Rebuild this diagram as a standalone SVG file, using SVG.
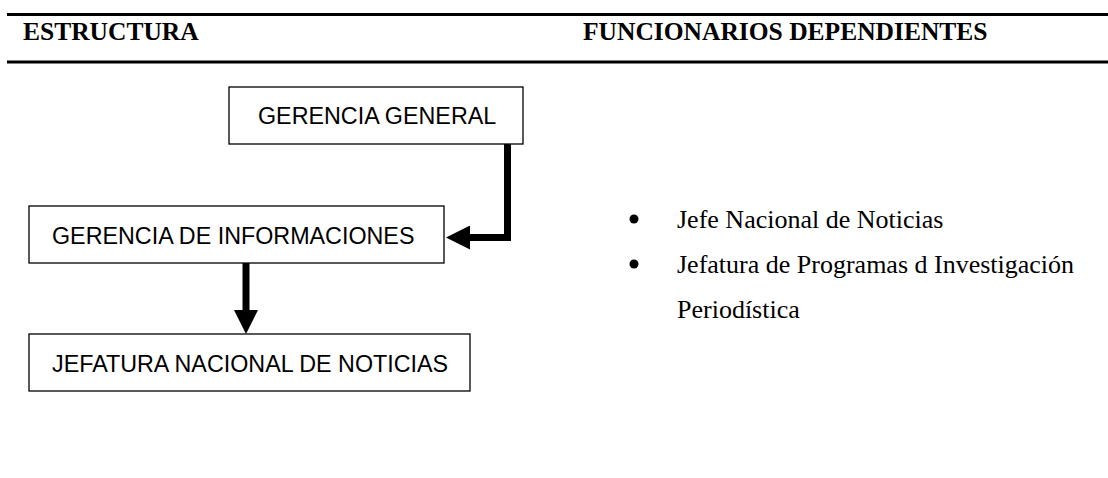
<svg xmlns="http://www.w3.org/2000/svg" width="1108" height="478" viewBox="0 0 1108 478">
  <style>
    .rule { stroke: #000; stroke-width: 3; }
    .head { font-family: "Liberation Serif", "Times New Roman", serif; font-weight: bold; font-size: 25.5px; fill: #000; }
    .box { fill: #fff; stroke: #000; stroke-width: 1.3; }
    .boxtxt { font-family: "Liberation Sans", Arial, sans-serif; font-size: 23.3px; fill: #000; }
    .body { font-family: "Liberation Serif", "Times New Roman", serif; font-size: 26px; fill: #000; }
    .conn { fill: none; stroke: #000; stroke-width: 7; stroke-linejoin: miter; stroke-linecap: butt; }
  </style>
  <defs>
    <marker id="arrow" markerUnits="userSpaceOnUse" markerWidth="24" markerHeight="24" refX="0" refY="12" orient="auto" viewBox="0 0 24 24">
      <path d="M0,0 L24,12 L0,24 Z" fill="#000"/>
    </marker>
  </defs>
  <rect width="1108" height="478" fill="#fff"/>
  <g id="header">
    <line class="rule" x1="7" y1="14.5" x2="1108" y2="14.5"/>
    <line class="rule" x1="7" y1="62" x2="1108" y2="62"/>
    <text class="head" x="23" y="40">ESTRUCTURA</text>
    <text class="head" x="583" y="40">FUNCIONARIOS DEPENDIENTES</text>
  </g>
  <g id="node-gerencia-general">
    <rect class="box" x="229" y="87" width="294" height="57"/>
    <text class="boxtxt" x="258" y="124">GERENCIA GENERAL</text>
  </g>
  <g id="node-gerencia-informaciones">
    <rect class="box" x="29" y="206" width="415" height="57"/>
    <text class="boxtxt" x="52" y="244">GERENCIA DE INFORMACIONES</text>
  </g>
  <g id="node-jefatura">
    <rect class="box" x="29" y="334" width="441" height="57"/>
    <text class="boxtxt" x="52" y="372">JEFATURA NACIONAL DE NOTICIAS</text>
  </g>
  <g id="connectors">
    <path class="conn" d="M507.5,144 V237.5 H470" marker-end="url(#arrow)"/>
    <path class="conn" d="M246,263 V310" marker-end="url(#arrow)"/>
  </g>
  <g id="list">
    <circle cx="634" cy="219" r="4.5" fill="#000"/>
    <text class="body" x="677" y="228">Jefe Nacional de Noticias</text>
    <circle cx="634" cy="264" r="4.5" fill="#000"/>
    <text class="body" x="677" y="273">Jefatura de Programas d Investigación</text>
    <text class="body" x="677" y="318">Periodística</text>
  </g>
</svg>
